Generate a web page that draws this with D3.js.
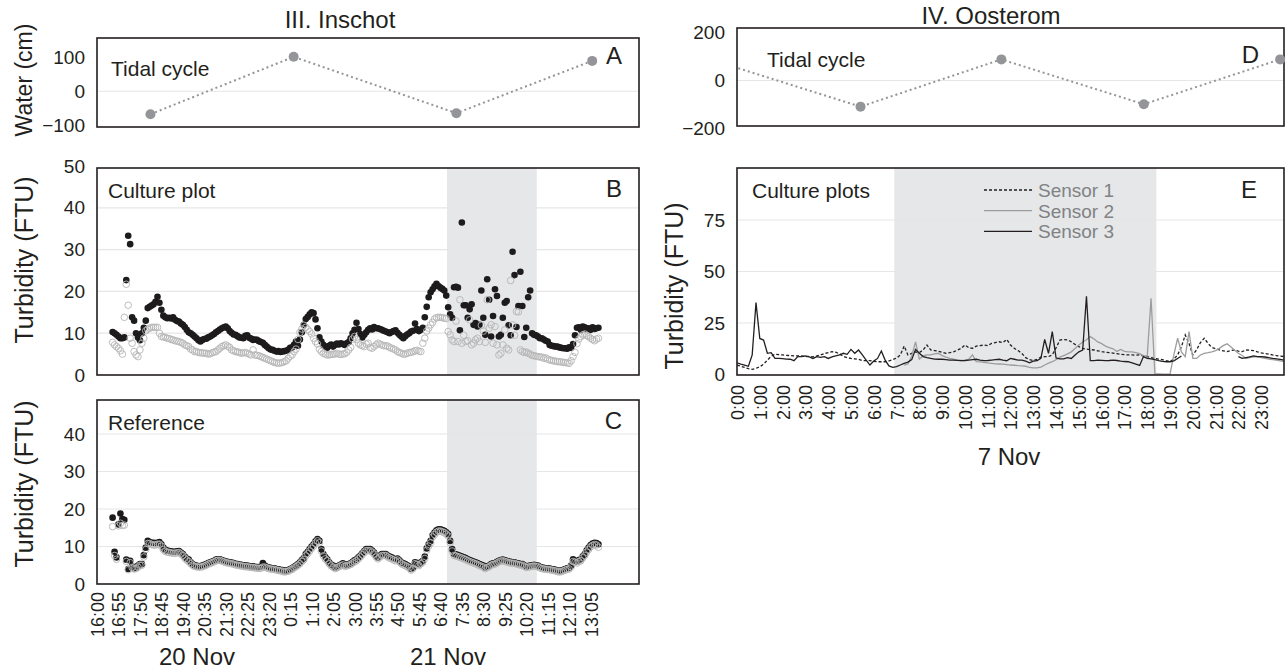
<!DOCTYPE html>
<html><head><meta charset="utf-8">
<script src="https://cdn.jsdelivr.net/npm/d3@7"></script>
<style>
body{margin:0;background:#fff;}
svg text{font-family:"Liberation Sans",Arial,Helvetica,sans-serif;fill:#231f20;}
</style></head><body><div id="chart"></div>
<script>
// ---- data: III. Inschot, 5-min samples starting 20 Nov 16:40 ----
const cultureBlack = [
10.3,10.0,9.6,9.2,
8.8,8.8,9.0,22.7,33.3,31.3,13.8,13.0,10.0,9.0,8.3,10.0,
11.3,13.0,16.0,16.3,16.6,16.9,17.5,18.7,17.3,15.6,14.2,13.8,
13.6,13.7,13.5,13.8,13.2,12.9,12.8,12.3,12.0,11.5,10.8,10.2,
10.0,9.6,9.2,8.8,8.3,8.0,8.4,8.6,8.7,9.0,9.2,9.5,
9.8,10.2,10.5,10.9,11.2,11.4,11.6,11.2,10.5,10.1,9.7,9.6,
9.3,9.0,8.9,8.8,9.4,9.5,8.9,8.7,8.4,8.5,8.4,8.1,
7.9,7.7,7.2,6.8,6.4,6.1,6.0,5.8,5.6,5.7,5.5,5.6,
5.7,5.8,6.0,6.5,6.6,7.2,8.0,7.0,8.5,10.2,12.0,13.4,
13.9,14.5,15.0,14.8,13.3,11.2,9.0,8.0,7.2,6.8,6.5,7.0,
7.3,6.8,7.2,7.5,7.3,7.6,7.4,7.2,7.6,7.9,8.8,10.0,
10.8,12.5,11.0,9.8,9.0,9.6,10.2,10.8,11.2,10.9,11.5,11.2,
11.2,11.0,10.8,10.6,10.4,10.2,10.0,10.3,10.5,10.7,10.1,9.6,
9.2,8.8,9.3,9.7,10.0,10.4,10.6,12.3,11.0,10.5,10.8,11.3,
13.8,16.3,18.6,19.8,20.5,21.2,21.8,21.3,20.9,20.6,20.2,19.0,
16.2,14.5,13.7,21.0,21.1,20.9,10.7,36.5,16.7,16.7,13.7,15.7,
16.9,12.0,12.4,11.6,12.0,20.2,13.7,9.6,22.9,18.0,9.2,14.1,
20.5,18.9,9.2,9.6,13.7,17.3,17.7,11.9,9.5,29.5,23.9,11.5,
16.5,24.7,16.5,9.1,11.3,18.6,20.2,10.0,9.6,9.5,9.2,8.8,
8.8,8.5,8.2,8.0,7.2,7.0,6.9,6.8,6.8,6.6,6.5,6.4,
6.4,6.3,6.6,6.5,7.4,9.5,11.3,11.4,10.8,11.6,11.4,11.0,
11.2,10.8,11.4,11.0,11.2,11.3];

const cultureGray = [
7.8,7.2,6.8,6.4,
5.8,5.0,13.8,21.7,16.7,8.8,7.6,5.6,4.8,4.4,6.0,7.6,
8.8,10.6,11.0,11.2,11.4,11.4,11.4,11.4,10.0,9.2,9.1,9.0,
8.8,8.7,8.5,8.4,8.2,8.1,8.0,7.8,7.6,7.2,7.0,6.8,
6.2,6.0,5.6,5.6,5.4,5.3,5.3,5.2,5.2,5.0,5.1,5.3,
5.5,5.6,6.0,6.4,6.8,7.0,7.2,6.9,6.6,6.0,5.8,5.6,
5.5,5.4,5.2,5.3,5.4,5.2,5.0,4.8,6.0,4.8,4.7,4.6,
4.4,4.2,4.0,3.8,3.6,3.4,3.2,3.0,2.9,2.8,2.9,3.0,
3.2,3.4,4.0,4.5,4.8,5.6,6.2,8.5,10.2,11.0,11.9,11.4,
10.9,10.4,9.8,8.8,8.0,7.4,6.2,5.6,5.2,5.0,4.8,4.8,
4.9,5.0,5.0,5.2,5.0,4.9,5.0,5.1,5.4,6.0,6.6,8.6,
9.2,8.5,7.6,7.2,7.0,6.8,7.4,7.6,6.6,6.4,6.8,7.2,
7.6,7.4,7.2,7.0,7.0,6.9,6.6,6.4,6.2,6.0,5.6,5.4,
5.2,5.0,5.0,5.2,5.4,5.4,5.6,5.8,5.9,5.7,5.6,7.6,
8.8,10.5,11.2,12.0,12.6,13.4,13.7,13.8,13.8,13.7,13.6,13.5,
10.4,9.6,8.4,8.0,12.9,8.0,18.0,7.6,9.5,8.0,8.2,13.2,
7.2,7.6,8.4,8.8,8.0,11.9,10.5,7.8,18.0,11.2,12.0,7.6,
11.6,7.2,4.8,5.2,7.2,10.8,6.4,6.0,22.6,12.0,9.5,15.2,
15.1,6.0,5.6,5.4,5.5,5.2,5.0,4.7,4.6,4.5,4.4,4.3,
4.3,4.0,4.1,3.8,3.6,3.5,3.4,3.3,3.2,3.2,3.1,3.0,
3.0,2.9,2.8,3.4,4.4,5.4,7.5,8.6,9.2,9.6,9.8,9.4,
9.2,8.8,8.5,8.2,8.6,8.8];

const refBlack = [
17.7,8.6,7.1,15.9,
18.8,17.3,17.1,6.5,4.0,6.2,4.7,4.2,4.4,4.9,5.3,5.3,
7.7,9.7,11.5,11.2,11.0,11.0,10.9,11.0,11.2,10.6,9.7,9.1,
8.9,8.8,8.7,8.6,8.6,8.7,8.8,8.4,8.0,7.3,6.8,6.5,
5.8,5.3,5.0,4.9,4.7,4.8,4.9,5.1,5.3,5.6,5.8,6.0,
6.2,6.5,6.6,6.6,6.4,6.2,6.0,5.9,5.8,5.7,5.6,5.4,
5.3,5.2,5.1,5.0,4.9,4.9,4.8,4.7,4.7,4.6,4.5,4.5,
4.6,5.6,4.9,4.6,4.4,4.3,4.2,4.2,4.0,3.9,3.8,3.7,
3.5,3.6,3.7,4.0,4.2,4.6,4.9,5.3,5.8,6.4,6.9,8.0,
8.6,9.3,10.0,10.6,11.4,12.0,11.5,9.3,8.0,7.2,6.6,5.8,
5.2,4.9,4.4,4.6,4.9,5.2,5.5,5.0,5.1,5.3,5.5,5.9,
6.3,6.6,7.1,7.6,8.2,8.8,9.3,9.3,9.3,8.9,8.4,7.6,
7.1,7.6,8.0,8.0,8.0,7.6,7.3,7.1,6.8,6.6,6.8,6.3,
5.8,5.5,5.3,5.0,4.7,4.0,4.4,5.8,5.6,5.3,5.8,6.2,
7.3,9.5,10.6,11.5,13.0,13.7,14.3,14.6,14.6,14.4,14.2,13.8,
13.3,11.5,9.3,8.0,7.9,7.7,7.5,7.3,7.1,6.9,6.6,6.4,
6.2,6.0,5.8,5.6,5.3,5.1,4.9,4.4,4.7,4.9,5.3,5.5,
5.6,5.9,6.2,6.4,6.5,6.3,6.2,6.0,5.9,5.8,5.8,5.6,
5.5,5.3,5.3,5.0,4.7,4.8,4.9,5.0,5.1,5.0,4.9,4.6,
4.4,4.3,4.2,4.2,4.1,4.0,3.9,3.8,3.6,3.5,3.6,3.8,
4.0,4.2,4.3,4.9,6.6,6.2,6.0,6.4,6.6,7.4,8.0,9.0,
9.7,10.4,10.8,11.0,10.9,10.6];

const refGray = [
15.3,7.6,6.6,15.5,
16.2,15.6,15.7,6.0,3.8,5.7,4.4,4.0,4.1,4.5,5.0,5.0,
7.2,9.2,10.8,10.8,10.5,10.4,10.4,10.6,10.6,10.1,9.2,8.7,
8.5,8.4,8.3,8.2,8.2,8.3,8.4,8.0,7.6,6.9,6.4,6.0,
5.4,5.0,4.7,4.6,4.5,4.5,4.6,4.8,5.0,5.3,5.5,5.7,
5.9,6.2,6.3,6.3,6.1,5.9,5.7,5.6,5.5,5.4,5.3,5.1,
5.0,4.9,4.8,4.7,4.6,4.6,4.5,4.4,4.4,4.3,4.2,4.2,
4.2,4.5,4.5,4.3,4.1,4.0,3.9,3.9,3.7,3.6,3.5,3.4,
3.2,3.3,3.4,3.7,3.9,4.3,4.6,5.0,5.4,6.0,6.5,7.5,
8.1,8.8,9.5,10.1,10.9,11.5,11.0,8.8,7.5,6.7,6.2,5.4,
4.8,4.5,4.1,4.3,4.6,4.9,5.1,4.7,4.8,5.0,5.2,5.6,
5.9,6.2,6.7,7.2,7.8,8.4,8.9,8.9,8.9,8.5,8.0,7.2,
6.7,7.2,7.6,7.6,7.6,7.2,6.9,6.7,6.4,6.2,6.4,5.9,
5.4,5.1,4.9,4.6,4.3,3.7,4.1,5.4,5.2,4.9,5.4,5.8,
6.8,9.0,10.1,11.0,12.5,13.2,13.8,14.1,14.1,13.9,13.7,13.3,
12.8,11.0,8.8,7.6,7.5,7.3,7.1,6.9,6.7,6.5,6.2,6.0,
5.8,5.6,5.4,5.2,4.9,4.7,4.5,4.1,4.4,4.6,5.0,5.2,
5.3,5.6,5.9,6.1,6.2,6.0,5.9,5.7,5.6,5.5,5.5,5.3,
5.2,5.0,5.0,4.7,4.4,4.5,4.6,4.7,4.8,4.7,4.6,4.3,
4.1,4.0,3.9,3.9,3.8,3.7,3.6,3.5,3.3,3.2,3.3,3.5,
3.7,3.9,4.0,4.6,6.0,5.8,5.6,6.0,6.2,7.0,7.6,8.5,
9.2,9.9,10.3,10.5,10.4,9.8];

// tidal turning points, minutes after 20 Nov 16:00
const tideInschotMin = [137, 504, 921, 1269];
const tideInschotCm = [-68, 102, -65, 90];
// shaded period (minutes after 16:00)
const inschotShade = [897, 1127];
const inschotTickLabels = ["16:00","16:55","17:50","18:45","19:40","20:35","21:30","22:25","23:20","0:15","1:10","2:05","3:00","3:55","4:50","5:45","6:40","7:35","8:30","9:25","10:20","11:15","12:10","13:05"];

// ---- data: IV. Oosterom, 7 Nov, 10-min samples from 0:00 ----
const sensor1 = [
4.6,4.0,3.5,2.8,2.5,3.0, 3.8,5.0,7.0,8.8,9.9,9.6, 9.5,9.3,9.2,9.0,9.0,9.0,
8.7,8.8,8.6,9.0,9.5,10.2, 10.6,11.1,10.8,10.0,8.8,8.2, 7.8,7.6,7.4,6.8,6.7,6.7,
6.4,6.2,6.2,6.2,6.6,7.2, 8.0,9.5,13.8,9.5,10.3,11.0, 10.6,11.9,14.3,11.9,11.6,11.3,
10.8,10.3,10.6,11.0,11.8,12.7, 14.3,13.0,12.7,13.8,14.0,14.3, 14.0,15.1,15.5,15.9,15.5,17.0,
14.3,12.7,11.6,10.2,8.2,7.2, 6.8,7.4,8.4,8.7,8.7,9.5, 13.0,16.7,17.0,16.8,15.9,14.6,
13.5,12.7,12.3,12.1,11.9,11.5, 11.1,10.8,10.6,10.4,10.1,9.8, 9.6,9.5,9.5,9.4,9.5,9.0,
8.7,8.2,7.8,7.5,7.2,6.7, 6.4,7.5,9.5,13.5,19.2,15.0, 9.5,12.0,15.5,17.6,15.1,13.2,
12.5,11.9,11.5,11.1,11.6,11.9, 11.3,11.1,11.9,11.8,11.6,11.0, 10.5,10.2,9.9,9.5,9.2,8.9,
8.7];
const sensor2 = [
null,null,null,null,null,null, null,null,null,null,null,null, null,null,null,null,null,null,
null,null,null,null,null,null, null,null,null,null,null,null, null,null,null,null,null,null,
null,null,null,null,null,null, null,null,4.5,5.1,9.0,15.8, 7.5,9.0,9.5,9.5,10.0,10.3,
9.2,8.4,7.8,7.4,7.0,6.8, 6.9,7.4,9.5,6.2,6.1,5.9, 5.6,5.4,5.2,5.1,5.0,4.8,
4.6,4.5,4.3,4.2,4.0,3.5, 3.2,3.2,3.6,4.6,5.5,6.2, 7.2,8.4,9.2,10.0,11.0,12.6,
14.3,15.8,16.9,18.4,17.2,15.8, 15.0,13.8,13.0,12.5,11.2,12.2, 11.2,11.0,11.0,10.6,10.1,9.2,
9.0,37.0,0.4,0.3,0.2,0.2, 0.2,9.5,17.6,11.0,8.7,20.8, 7.8,7.8,9.5,10.3,10.6,11.0,
11.6,12.7,14.0,14.9,13.5,11.8, 10.3,9.2,7.8,8.2,8.6,8.7, 8.2,7.8,7.5,7.2,7.0,6.6,
6.2];
const sensor3 = [
5.7,5.0,4.6,4.0,9.5,34.9, 17.5,16.7,10.3,10.6,7.8,7.8, 7.7,7.5,7.4,6.7,8.7,8.7,
9.0,8.5,7.8,8.7,8.3,8.7, 7.8,8.5,9.0,9.5,10.3,9.8, 12.2,10.3,11.9,9.5,7.0,4.6,
6.5,7.8,11.4,7.0,4.2,3.5, 3.8,4.6,5.4,6.0,7.2,12.2, 10.3,8.7,8.2,7.8,7.5,7.4,
7.4,7.2,7.0,7.0,6.9,6.7, 6.8,7.0,7.2,7.4,7.0,6.7, 6.8,7.0,7.2,7.4,7.0,6.7,
7.8,7.4,7.0,7.0,6.5,5.7, 6.5,6.7,7.8,17.0,10.3,20.8, 8.0,7.6,7.6,8.2,7.8,9.5,
11.0,11.9,38.0,6.7,6.7,7.0, 6.9,6.7,6.8,7.0,6.8,6.5, 6.3,6.2,5.6,5.0,4.4,8.7,
7.8,7.6,7.2,6.7,6.4,6.2, 6.2,6.6,7.8,9.0,null,null, null,null,null,null,null,null,
null,null,null,null,null,null, 8.7,7.8,8.2,8.6,9.0,8.7, 8.7,8.5,8.2,7.8,7.6,7.3,
7.0];
const sensorNames = ["Sensor 1","Sensor 2","Sensor 3"];
// tidal turning points, hours on 7 Nov (first one lies before midnight)
const tideOosteromHour = [-1.41, 5.42, 11.6, 17.85, 23.83];
const tideOosteromCm = [95, -109, 88, -99, 88];
const oosteromShade = [6.9, 18.4];

// ---- layout ----
const svg = d3.select("#chart").append("svg").attr("width", 1287).attr("height", 669);
const ink = "#231f20", shadeCol = "#e6e7e8", gridCol = "#e6e6e6", tideCol = "#939598";

const t0 = new Date(2000, 10, 20, 16, 0);
const at = m => new Date(t0.getTime() + m * 60000);
const firstSample = 40; // 16:40

const xIn = d3.scaleTime().domain([at(0), at(1389)]).range([97, 639]);
const xOo = d3.scaleLinear().domain([0, 24]).range([737, 1284]);

const yA = d3.scaleLinear().domain([-100, 100]).range([125, 57.5]);
const yB = d3.scaleLinear().domain([0, 50]).range([375, 166]);
const yC = d3.scaleLinear().domain([0, 40]).range([584, 434]);
const yD = d3.scaleLinear().domain([-200, 200]).range([128.5, 32.5]);
const yE = d3.scaleLinear().domain([0, 75]).range([374.5, 220]);

function shade(x0, x1, top, bottom) {
  svg.append("rect").attr("x", x0).attr("y", top).attr("width", x1 - x0)
    .attr("height", bottom - top).attr("fill", shadeCol);
}

function grid(y, vals, x0, x1) {
  svg.append("g").selectAll("line").data(vals).join("line")
    .attr("x1", x0).attr("x2", x1).attr("y1", d => y(d)).attr("y2", d => y(d))
    .attr("stroke", gridCol).attr("stroke-width", 1.2);
}

function yAxis(y, x, vals, fmt) {
  const g = svg.append("g").attr("transform", `translate(${x},0)`)
    .call(d3.axisLeft(y).tickValues(vals).tickSize(0).tickPadding(12).tickFormat(fmt || (d => d)));
  g.select(".domain").remove();
  g.selectAll("text").style("font-size", "19px").attr("fill", ink)
    .style("font-family", '"Liberation Sans",Arial,sans-serif');
}

function box(x0, x1, top, bottom) {
  svg.append("rect").attr("x", x0).attr("y", top).attr("width", x1 - x0)
    .attr("height", bottom - top).attr("fill", "none").attr("stroke", ink).attr("stroke-width", 1.6);
}

function label(x, y, txt, size, anchor, color) {
  svg.append("text").attr("x", x).attr("y", y).attr("text-anchor", anchor || "start")
    .style("font-size", size + "px").style("fill", color || ink).text(txt);
}

function vLabel(x, y, txt, size) {
  svg.append("text").attr("transform", `translate(${x},${y}) rotate(-90)`)
    .attr("text-anchor", "middle").style("font-size", size + "px").text(txt);
}

const minus = d => d < 0 ? "\u2212" + Math.abs(d) : d;

// ---- titles ----
label(340, 28, "III. Inschot", 24, "middle");
label(991, 24, "IV. Oosterom", 24, "middle");

// ---- A: tidal cycle Inschot ----
grid(yA, [0], 97, 639);
box(97, 639, 38, 127);
yAxis(yA, 97, [-100, 0, 100], minus);
const tideA = tideInschotMin.map((m, i) => ({t: at(m), v: tideInschotCm[i]}));
svg.append("path").datum(tideA)
  .attr("d", d3.line().x(d => xIn(d.t)).y(d => yA(d.v)))
  .attr("fill", "none").attr("stroke", tideCol).attr("stroke-width", 2).attr("stroke-dasharray", "2,3");
svg.append("g").selectAll("circle").data(tideA).join("circle")
  .attr("cx", d => xIn(d.t)).attr("cy", d => yA(d.v)).attr("r", 5).attr("fill", tideCol);
label(111, 76, "Tidal cycle", 21);
label(622, 64, "A", 24, "end");
vLabel(32, 80, "Water (cm)", 23);

// ---- B and C: scatter panels ----
function scatterPanel(y, top, blacks, grays, tickVals, gridVals, name, letter) {
  shade(xIn(at(inschotShade[0])), xIn(at(inschotShade[1])), top, y(0));
  grid(y, gridVals, 97, 639);
  const pts = (arr) => arr.map((v, i) => ({t: at(firstSample + 5 * i), v}));
  svg.append("g").selectAll("circle").data(pts(blacks)).join("circle")
    .attr("cx", d => xIn(d.t)).attr("cy", d => y(d.v)).attr("r", 3.3).attr("fill", "#1d1b1c");
  svg.append("g").selectAll("circle").data(pts(grays)).join("circle")
    .attr("cx", d => xIn(d.t)).attr("cy", d => y(d.v)).attr("r", 3.3)
    .attr("fill", "none").attr("stroke", "#b5b5b5").attr("stroke-width", 0.9);
  box(97, 639, top, y(0));
  yAxis(y, 97, tickVals);
  label(108, top + 30, name, 21);
  label(622, top + 29, letter, 24, "end");
}
scatterPanel(yB, 168, cultureBlack, cultureGray, [0, 10, 20, 30, 40, 50], [10, 20, 30, 40], "Culture plot", "B");
vLabel(33, 260, "Turbidity (FTU)", 25);
scatterPanel(yC, 400, refBlack, refGray, [0, 10, 20, 30, 40], [10, 20, 30, 40], "Reference", "C");
vLabel(33, 484, "Turbidity (FTU)", 25);

// time axis under C
const xAxC = svg.append("g").attr("transform", "translate(0,584)")
  .call(d3.axisBottom(xIn).tickValues(inschotTickLabels.map((s, i) => at(i * 55)))
    .tickSize(0).tickFormat((d, i) => inschotTickLabels[i]));
xAxC.select(".domain").remove();
xAxC.selectAll("text").attr("transform", "rotate(-90)").attr("text-anchor", "end")
  .attr("x", -8).attr("y", 0).attr("dy", "0.36em").style("font-size", "18px").attr("fill", ink);
label(197, 665, "20 Nov", 24, "middle");
label(448, 665, "21 Nov", 24, "middle");

// ---- D: tidal cycle Oosterom ----
grid(yD, [0], 737, 1284);
svg.append("clipPath").attr("id", "clipD").append("rect")
  .attr("x", 737).attr("y", 28).attr("width", 547).attr("height", 98);
const tideD = tideOosteromHour.map((h, i) => ({h, v: tideOosteromCm[i]}));
svg.append("path").datum(tideD).attr("clip-path", "url(#clipD)")
  .attr("d", d3.line().x(d => xOo(d.h)).y(d => yD(d.v)))
  .attr("fill", "none").attr("stroke", tideCol).attr("stroke-width", 2).attr("stroke-dasharray", "2,3");
box(737, 1284, 28, 126);
svg.append("g").selectAll("circle").data(tideD.filter(d => d.h >= 0)).join("circle")
  .attr("cx", d => xOo(d.h)).attr("cy", d => yD(d.v)).attr("r", 5).attr("fill", tideCol);
yAxis(yD, 737, [-200, 0, 200], minus);
label(767, 67, "Tidal cycle", 21);
label(1259, 63, "D", 24, "end");

// ---- E: culture plots Oosterom ----
shade(xOo(oosteromShade[0]), xOo(oosteromShade[1]), 168, 375);
grid(yE, [25, 50, 75], 737, 1284);
const sensorStyle = [
  {stroke: ink, dash: "3,2"},
  {stroke: "#9d9d9d", dash: null},
  {stroke: ink, dash: null}
];
[sensor1, sensor2, sensor3].forEach((s, k) => {
  const pts = s.map((v, i) => ({h: i / 6, v}));
  svg.append("path").datum(pts)
    .attr("d", d3.line().defined(d => d.v !== null).x(d => xOo(d.h)).y(d => yE(d.v)))
    .attr("fill", "none").attr("stroke", sensorStyle[k].stroke).attr("stroke-width", 1.3)
    .attr("stroke-dasharray", sensorStyle[k].dash);
});
box(737, 1284, 168, 375);
yAxis(yE, 737, [0, 25, 50, 75]);
label(752, 198, "Culture plots", 21);
label(1257, 198, "E", 24, "end");
vLabel(683, 286, "Turbidity (FTU)", 25);

// legend
sensorNames.forEach((n, k) => {
  const ly = 190 + k * 20.7;
  svg.append("line").attr("x1", 984).attr("x2", 1032).attr("y1", ly).attr("y2", ly)
    .attr("stroke", sensorStyle[k].stroke).attr("stroke-width", 1.3)
    .attr("stroke-dasharray", sensorStyle[k].dash);
  label(1038, ly + 7, n, 19, "start", "#808285");
});

// time axis under E
const xAxE = svg.append("g").attr("transform", "translate(0,375)")
  .call(d3.axisBottom(xOo).tickValues(d3.range(24)).tickSize(0).tickFormat(h => h + ":00"));
xAxE.select(".domain").remove();
xAxE.selectAll("text").attr("transform", "rotate(-90)").attr("text-anchor", "end")
  .attr("x", -10).attr("y", 0).attr("dy", "0.36em").style("font-size", "18px").attr("fill", ink);
label(1009, 465, "7 Nov", 24, "middle");
</script></body></html>
